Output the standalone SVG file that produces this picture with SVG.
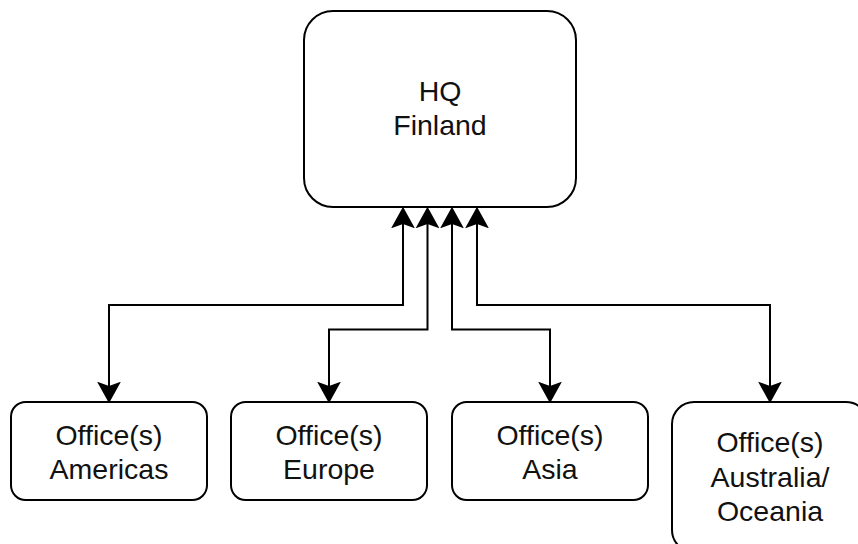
<svg xmlns="http://www.w3.org/2000/svg" width="858" height="544" viewBox="0 0 858 544">
<style>
.box{fill:#fff;stroke:#000;stroke-width:2}
.lbl{font-family:"Liberation Sans",Arial,sans-serif;font-size:28.5px;fill:#111;text-anchor:middle}
.conn{fill:none;stroke:#000;stroke-width:2;marker-start:url(#ah);marker-end:url(#ah)}
</style>
<defs>
<marker id="ah" markerUnits="userSpaceOnUse" markerWidth="24" markerHeight="26" viewBox="0 -12 22 24" refX="4" refY="0" orient="auto-start-reverse">
<path d="M0,-11 L20,0 L0,11 L4,0 Z" fill="#000"/>
</marker>
</defs>
<rect width="858" height="544" fill="#fff"/>
<g id="connectors">
<path class="conn" d="M403,224 V305 H109 V386"/>
<path class="conn" d="M427.5,224 V329.5 H329 V386"/>
<path class="conn" d="M452,224 V329.5 H550 V386"/>
<path class="conn" d="M477,224 V305 H770 V386"/>
</g>
<g id="hq">
<rect class="box" x="304" y="11" width="272" height="196" rx="29" ry="29"/>
<text class="lbl" x="440" y="100.5">HQ</text>
<text class="lbl" x="440" y="134.5">Finland</text>
</g>
<g id="americas">
<rect class="box" x="11" y="402" width="196" height="98" rx="14.7" ry="14.7"/>
<text class="lbl" x="109" y="445">Office(s)</text>
<text class="lbl" x="109" y="479">Americas</text>
</g>
<g id="europe">
<rect class="box" x="231" y="402" width="196" height="98" rx="14.7" ry="14.7"/>
<text class="lbl" x="329" y="445">Office(s)</text>
<text class="lbl" x="329" y="479">Europe</text>
</g>
<g id="asia">
<rect class="box" x="452" y="402" width="196" height="98" rx="14.7" ry="14.7"/>
<text class="lbl" x="550" y="445">Office(s)</text>
<text class="lbl" x="550" y="479">Asia</text>
</g>
<g id="australia">
<rect class="box" x="672" y="402" width="196" height="150" rx="22" ry="22"/>
<text class="lbl" x="770" y="452">Office(s)</text>
<text class="lbl" x="770" y="486.5">Australia/</text>
<text class="lbl" x="770" y="521">Oceania</text>
</g>
</svg>
